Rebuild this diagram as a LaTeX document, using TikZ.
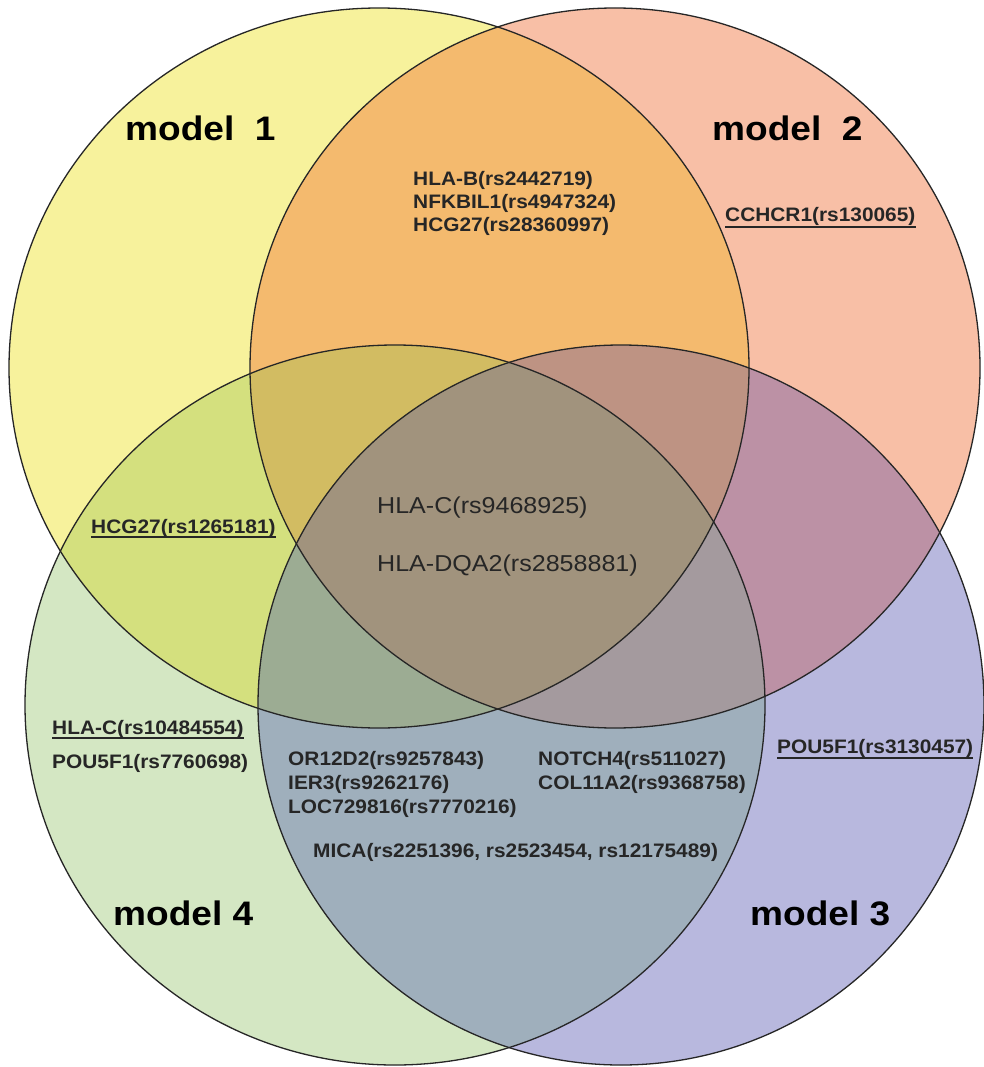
\documentclass[tikz,border=0pt]{standalone}
\usepackage{fontspec}
\setmainfont{Liberation Sans}
\definecolor{cY}{HTML}{F7F29C}
\definecolor{cP}{HTML}{F8BFA6}
\definecolor{cG}{HTML}{D4E7C3}
\definecolor{cL}{HTML}{B8B8DE}
\definecolor{cO}{HTML}{F4BA6E}
\definecolor{cYG}{HTML}{D4E07E}
\definecolor{cMa}{HTML}{BC91A5}
\definecolor{cGB}{HTML}{9FAFBC}
\definecolor{cMu}{HTML}{D2BC62}
\definecolor{cBP}{HTML}{BE9383}
\definecolor{cGG}{HTML}{9CAC93}
\definecolor{cMG}{HTML}{A49A9E}
\definecolor{cT}{HTML}{A1937D}
\definecolor{txt}{HTML}{262626}
\newcommand\wsm[1]{\scalebox{1.07}[1]{#1}}
\newcommand\wmd[1]{\scalebox{1.09}[1]{#1}}
\begin{document}
\begin{tikzpicture}[x=1pt,y=-1pt,
  outl/.style={draw=black!85, line width=1.3pt},
  lbl/.style={inner sep=0pt, anchor=base west, text=txt, font=\fontsize{19.5}{23}\selectfont\bfseries},
  mid/.style={inner sep=0pt, anchor=base west, text=txt, font=\fontsize{23}{27}\selectfont},
  mdl/.style={inner sep=0pt, anchor=base west, text=black, font=\fontsize{34}{40}\selectfont\bfseries},
  ul/.style={draw=txt, line width=1.4pt}]
\useasboundingbox (0,0) rectangle (984,1067);
\fill[white] (0,0) rectangle (984,1067);
\def\EA{(379,368) ellipse [x radius=370pt, y radius=360pt]}
\def\EB{(615,368) ellipse [x radius=365pt, y radius=360pt]}
\def\EC{(621,705) ellipse [x radius=363pt, y radius=360pt]}
\def\ED{(395,705) ellipse [x radius=370pt, y radius=360pt]}
% single sets
\fill[cY] \EA;
\fill[cP] \EB;
\fill[cG] \ED;
\fill[cL] \EC;
% pairs
\begin{scope}\clip \EA; \fill[cO] \EB; \end{scope}
\begin{scope}\clip \EA; \fill[cYG] \ED; \end{scope}
\begin{scope}\clip \EB; \fill[cMa] \EC; \end{scope}
\begin{scope}\clip \ED; \fill[cGB] \EC; \end{scope}
% triples
\begin{scope}\clip \EA; \clip \EB; \fill[cMu] \ED; \end{scope}
\begin{scope}\clip \EA; \clip \EB; \fill[cBP] \EC; \end{scope}
\begin{scope}\clip \EA; \clip \EC; \fill[cGG] \ED; \end{scope}
\begin{scope}\clip \EB; \clip \EC; \fill[cMG] \ED; \end{scope}
% all four
\begin{scope}\clip \EA; \clip \EB; \clip \EC; \fill[cT] \ED; \end{scope}
% outlines
\draw[outl] \EA;
\draw[outl] \EB;
\draw[outl] \EC;
\draw[outl] \ED;
% model labels
\node[mdl] (m1) at (125,141) {\wmd{model~~1}};
\node[mdl] (m2) at (712,141) {\wmd{model~~2}};
\node[mdl] (m4) at (113,925) {\wmd{model 4}};
\node[mdl] (m3) at (750,925) {\wmd{model 3}};
% model 1 & 2
\node[lbl] (b1) at (413,186) {\wsm{HLA-B(rs2442719)}};
\node[lbl] (b2) at (413,209) {\wsm{NFKBIL1(rs4947324)}};
\node[lbl] (b3) at (413,232) {\wsm{HCG27(rs28360997)}};
% model 2 only
\node[lbl] (c1) at (725,222) {\wsm{CCHCR1(rs130065)}};
\draw[ul] ([yshift=-5pt]c1.base west) -- ([yshift=-5pt]c1.base east);
% model 1 & 4
\node[lbl] (h1) at (91,533) {\wsm{HCG27(rs1265181)}};
\draw[ul] ([yshift=-4pt]h1.base west) -- ([yshift=-4pt]h1.base east);
% all
\node[mid] (a1) at (377,513) {\wmd{HLA-C(rs9468925)}};
\node[mid] (a2) at (377,571) {\wmd{HLA-DQA2(rs2858881)}};
% model 4 only
\node[lbl] (d1) at (52,734) {\wsm{HLA-C(rs10484554)}};
\draw[ul] ([yshift=-4pt]d1.base west) -- ([yshift=-4pt]d1.base east);
\node[lbl] (d2) at (52,768) {\wsm{POU5F1(rs7760698)}};
% model 3 & 4
\node[lbl] (e1) at (288,765) {\wsm{OR12D2(rs9257843)}};
\node[lbl] (e2) at (288,789) {\wsm{IER3(rs9262176)}};
\node[lbl] (e3) at (288,813) {\wsm{LOC729816(rs7770216)}};
\node[lbl] (f1) at (538,765) {\wsm{NOTCH4(rs511027)}};
\node[lbl] (f2) at (538,789) {\wsm{COL11A2(rs9368758)}};
\node[lbl] (g1) at (313,857) {\wsm{MICA(rs2251396, rs2523454, rs12175489)}};
% model 3 only
\node[lbl] (p1) at (777,753) {\wsm{POU5F1(rs3130457)}};
\draw[ul] ([yshift=-5pt]p1.base west) -- ([yshift=-5pt]p1.base east);
\end{tikzpicture}
\end{document}
